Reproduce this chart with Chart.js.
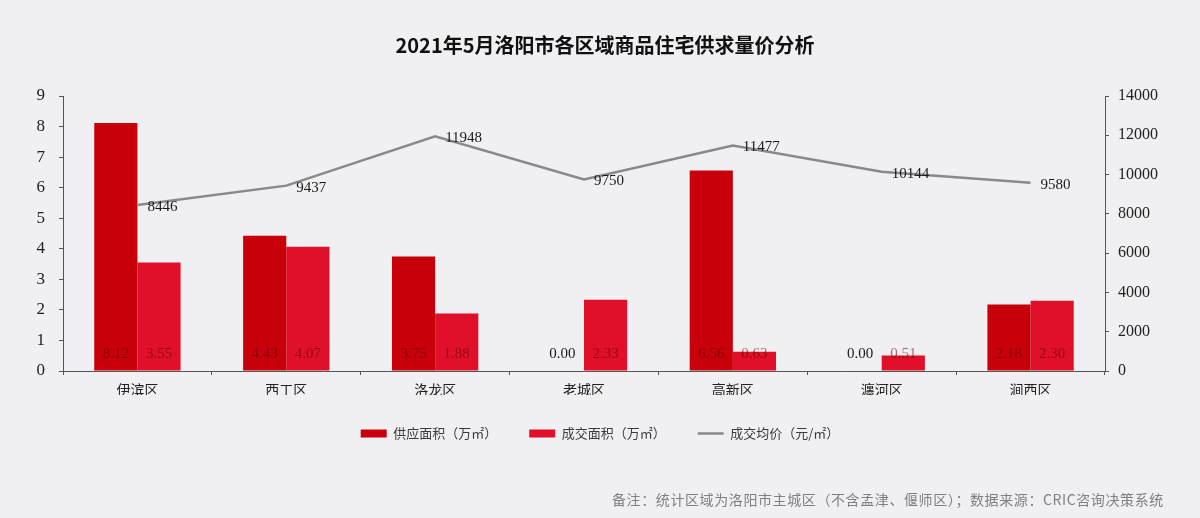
<!DOCTYPE html>
<html>
<head>
<meta charset="utf-8">
<script src="https://cdn.jsdelivr.net/npm/chart.js@4"></script>
<style>
  html, body { margin: 0; padding: 0; background: #f0eff1; }
  #wrap { position: relative; width: 1200px; height: 518px; }
  #title { position: absolute; left: 0; width: 1210px; top: 30px; text-align: center;
    font: bold 20px "Noto Sans CJK SC", sans-serif; color: #111; }
  #note { position: absolute; left: 612px; top: 489px; letter-spacing: 0.6px;
    font: 14px "Noto Sans CJK SC", sans-serif; color: #808080; }
</style>
</head>
<body>
<div id="wrap">
  <canvas id="myChart" width="1200" height="518"></canvas>
  <div id="title">2021年5月洛阳市各区域商品住宅供求量价分析</div>
  <div id="note">备注：统计区域为洛阳市主城区（不含孟津、偃师区）；数据来源：CRIC咨询决策系统</div>
</div>
<script>
const districts = ['伊滨区', '西工区', '洛龙区', '老城区', '高新区', '瀍河区', '涧西区'];
const supplyArea = [8.12, 4.43, 3.75, 0.00, 6.56, 0.00, 2.18];
const soldArea = [3.55, 4.07, 1.88, 2.33, 0.63, 0.51, 2.30];
const avgPrice = [8446, 9437, 11948, 9750, 11477, 10144, 9580];
const leftTicks = [0, 9, 1];
const rightTicks = [0, 14000, 2000];

const numFont = '"Liberation Serif", "DejaVu Serif", serif';
const cnFont = '"Noto Sans CJK SC", sans-serif';

// value labels: bar values at the bottom of bars, price next to line points
const valueLabels = {
  id: 'valueLabels',
  afterDatasetsDraw(chart) {
    const ctx = chart.ctx;
    ctx.save();
    ctx.font = '15px ' + numFont;
    chart.data.datasets.forEach((ds, i) => {
      const meta = chart.getDatasetMeta(i);
      meta.data.forEach((el, j) => {
        const v = ds.data[j];
        if (ds.type === 'line') {
          ctx.fillStyle = '#1a1a1a';
          ctx.textAlign = 'left';
          ctx.textBaseline = 'middle';
          ctx.fillText(String(v), el.x + 10, el.y + 2);
        } else {
          ctx.textAlign = 'center';
          ctx.textBaseline = 'middle';
          ctx.fillStyle = v === 0 ? '#1a1a1a' : 'rgba(90,0,0,0.55)';
          ctx.fillText(v.toFixed(2), el.x, chart.chartArea.bottom - 17);
        }
      });
    });
    ctx.restore();
  }
};

const ctx = document.getElementById('myChart').getContext('2d');
new Chart(ctx, {
  data: {
    labels: districts,
    datasets: [
      {
        type: 'line',
        label: '成交均价（元/㎡）',
        data: avgPrice,
        yAxisID: 'y1',
        borderColor: '#898989',
        backgroundColor: '#898989',
        borderWidth: 2.5,
        pointRadius: 0,
        pointStyle: 'line',
        tension: 0,
        order: 0
      },
      {
        type: 'bar',
        label: '供应面积（万㎡）',
        data: supplyArea,
        yAxisID: 'y',
        backgroundColor: '#c8000a',
        pointStyle: 'rect',
        categoryPercentage: 0.58,
        barPercentage: 1,
        order: 1
      },
      {
        type: 'bar',
        label: '成交面积（万㎡）',
        data: soldArea,
        yAxisID: 'y',
        backgroundColor: '#e0102a',
        pointStyle: 'rect',
        categoryPercentage: 0.58,
        barPercentage: 1,
        order: 1
      }
    ]
  },
  options: {
    responsive: false,
    animation: false,
    layout: { padding: { top: 96, left: 0, right: 0, bottom: 68 } },
    plugins: {
      title: { display: false },
      tooltip: { enabled: false },
      legend: {
        position: 'bottom',
        labels: {
          usePointStyle: true,
          pointStyleWidth: 26,
          boxHeight: 8,
          padding: 32,
          color: '#3a3a3a',
          font: { family: cnFont, size: 13 },
          sort: (a, b) => [1, 2, 0].indexOf(a.datasetIndex) - [1, 2, 0].indexOf(b.datasetIndex)
        }
      }
    },
    scales: {
      x: {
        grid: { display: true, drawOnChartArea: false, tickLength: 4, color: '#555' },
        border: { display: true, color: '#555' },
        ticks: { padding: 6, color: '#222', font: { family: cnFont, size: 14 } },
        afterFit: s => { s.height = 24; }
      },
      y: {
        position: 'left',
        min: leftTicks[0], max: leftTicks[1],
        grid: { display: true, drawOnChartArea: false, tickLength: 4, color: '#555' },
        border: { display: true, color: '#555' },
        ticks: { stepSize: leftTicks[2], padding: 14, color: '#222', font: { family: numFont, size: 17 } },
        afterFit: s => { s.width = 63; }
      },
      y1: {
        position: 'right',
        min: rightTicks[0], max: rightTicks[1],
        grid: { display: true, drawOnChartArea: false, tickLength: 4, color: '#555' },
        border: { display: true, color: '#555' },
        ticks: { stepSize: rightTicks[2], padding: 9, color: '#222', font: { family: numFont, size: 16 },
          callback: v => String(v) },
        afterFit: s => { s.width = 95; }
      }
    }
  },
  plugins: [valueLabels]
});
</script>
</body>
</html>
